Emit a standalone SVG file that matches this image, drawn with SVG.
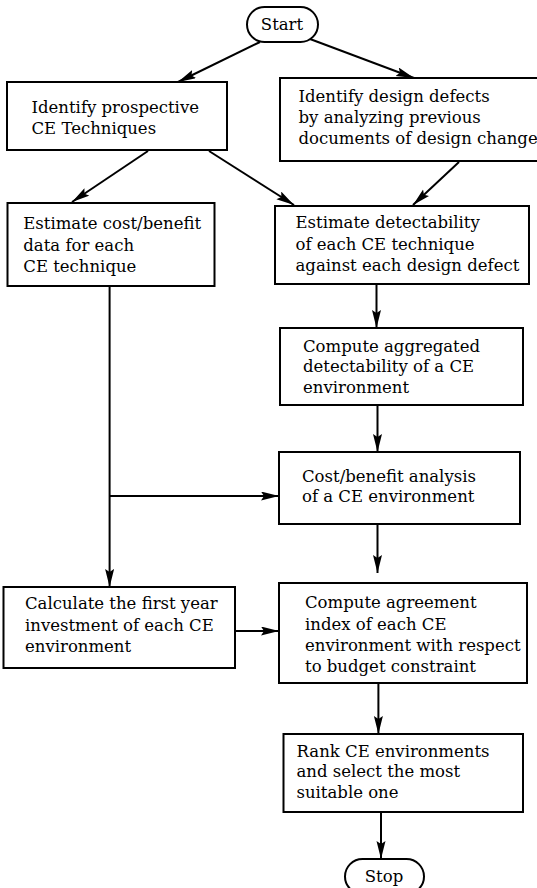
<svg xmlns="http://www.w3.org/2000/svg" width="537" height="888" viewBox="0 0 537 888">
<defs>
<marker id="ah" markerUnits="userSpaceOnUse" markerWidth="19" markerHeight="10" refX="18" refY="4.5" orient="auto">
<path d="M0,0 L18,4.5 L0,9 L3,4.5 z" fill="#000"/>
</marker>
<style>
.box{fill:#fff;stroke:#000;stroke-width:2}
.t{font-family:"DejaVu Serif","Liberation Serif",serif;font-size:16.5px;fill:#000}
.c{text-anchor:middle}
.ln{fill:none;stroke:#000;stroke-width:2}
.ar{fill:none;stroke:#000;stroke-width:2;marker-end:url(#ah)}
</style>
</defs>
<rect width="537" height="888" fill="#fff"/>
<g id="connectors">
<line class="ar" x1="260" y1="42" x2="178" y2="82"/>
<line class="ar" x1="310" y1="39" x2="414" y2="78"/>
<line class="ar" x1="148" y1="151" x2="72" y2="202"/>
<line class="ar" x1="209" y1="151" x2="294" y2="205"/>
<line class="ar" x1="459" y1="162" x2="413" y2="205"/>
<line class="ar" x1="376.5" y1="284" x2="376.5" y2="328"/>
<line class="ar" x1="377.5" y1="405" x2="377.5" y2="452"/>
<line class="ar" x1="377.5" y1="524" x2="377.5" y2="573"/>
<line class="ln" x1="109.6" y1="286" x2="109.6" y2="496"/>
<line class="ar" x1="109.6" y1="496" x2="109.6" y2="587"/>
<line class="ar" x1="109.6" y1="496" x2="279" y2="496"/>
<line class="ar" x1="235" y1="631" x2="279" y2="631"/>
<line class="ar" x1="378.4" y1="683" x2="378.4" y2="734"/>
<line class="ar" x1="381" y1="812" x2="381" y2="859"/>
</g>
<g id="start">
<rect class="box" x="247" y="7" width="71" height="35" rx="17.5"/>
<text class="t c" x="282" y="30">Start</text>
</g>
<g id="identify-techniques">
<rect class="box" x="7" y="82" width="220" height="68"/>
<text class="t" x="31.5" y="113">Identify prospective</text>
<text class="t" x="31.5" y="134">CE Techniques</text>
</g>
<g id="identify-defects">
<rect class="box" x="280" y="78" width="270" height="83"/>
<text class="t" x="298.5" y="102">Identify design defects</text>
<text class="t" x="298.5" y="123">by analyzing previous</text>
<text class="t" x="298.5" y="144">documents of design change</text>
</g>
<g id="estimate-cost">
<rect class="box" x="7.5" y="203" width="207" height="83"/>
<text class="t" x="23.3" y="229">Estimate cost/benefit</text>
<text class="t" x="23.3" y="251">data for each</text>
<text class="t" x="23.3" y="272">CE technique</text>
</g>
<g id="estimate-detectability">
<rect class="box" x="275" y="206" width="254" height="78"/>
<text class="t" x="295.5" y="228">Estimate detectability</text>
<text class="t" x="295.5" y="250">of each CE technique</text>
<text class="t" x="295.5" y="271">against each design defect</text>
</g>
<g id="aggregated">
<rect class="box" x="280" y="328" width="243" height="77"/>
<text class="t" x="303" y="352">Compute aggregated</text>
<text class="t" x="303" y="372">detectability of a CE</text>
<text class="t" x="303" y="393">environment</text>
</g>
<g id="cost-benefit">
<rect class="box" x="279" y="452" width="241" height="72"/>
<text class="t" x="302" y="482">Cost/benefit analysis</text>
<text class="t" x="302" y="502">of a CE environment</text>
</g>
<g id="first-year">
<rect class="box" x="3.5" y="587" width="231.5" height="81"/>
<text class="t" x="25" y="609">Calculate the first year</text>
<text class="t" x="25" y="631">investment of each CE</text>
<text class="t" x="25" y="652">environment</text>
</g>
<g id="agreement">
<rect class="box" x="279" y="583" width="248" height="100"/>
<text class="t" x="305" y="608">Compute agreement</text>
<text class="t" x="305" y="630">index of each CE</text>
<text class="t" x="305" y="651">environment with respect</text>
<text class="t" x="305" y="672">to budget constraint</text>
</g>
<g id="rank">
<rect class="box" x="283.5" y="734" width="239.5" height="78"/>
<text class="t" x="296.5" y="757">Rank CE environments</text>
<text class="t" x="296.5" y="777">and select the most</text>
<text class="t" x="296.5" y="798">suitable one</text>
</g>
<g id="stop">
<rect class="box" x="345" y="859" width="79" height="35" rx="17.5"/>
<text class="t c" x="384" y="882">Stop</text>
</g>
</svg>
